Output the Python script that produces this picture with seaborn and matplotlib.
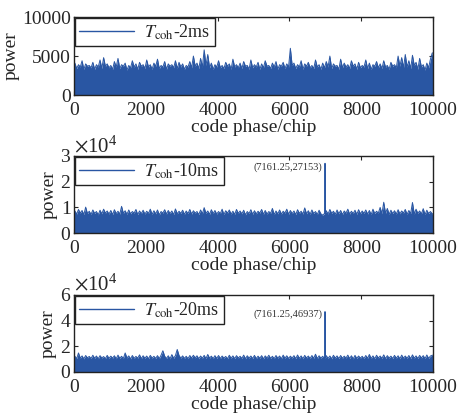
import numpy as np
import matplotlib
matplotlib.use("Agg")
import matplotlib.pyplot as plt
import seaborn as sns
import pandas as pd
from matplotlib.lines import Line2D
from matplotlib.ticker import ScalarFormatter

sns.set_style("ticks")
plt.rcParams['font.family'] = ['Liberation Serif', 'DejaVu Serif']
plt.rcParams['mathtext.fontset'] = 'stix'

# ---------------- data ----------------
labels = [r'$T_{\rm coh}$-2ms', r'$T_{\rm coh}$-10ms', r'$T_{\rm coh}$-20ms']
x_ticks = [0, 2000, 4000, 6000, 8000, 10000]
unit = 100          # values below are in hundreds of power units
bin_width = 50      # chips per listed value

power_2ms = [41,34,39,36,44,33,40,37,38,35,42,33,39,36,45,34,48,37,40,35,
             38,33,43,36,47,34,39,37,41,32,38,35,44,36,40,33,42,37,39,34,
             45,36,39,33,41,37,46,34,38,36,43,33,40,37,39,35,44,34,42,36,
             40,33,38,36,43,35,50,37,41,34,47,36,58,38,52,35,41,33,39,36,
             44,35,38,34,42,37,40,33,46,36,39,35,41,34,43,37,38,33,45,35,
             39,36,42,33,40,35,44,37,38,34,41,36,43,33,39,37,42,34,40,36,
             60,38,41,34,39,36,44,33,40,37,42,35,38,34,45,36,39,33,41,35,
             43,36,50,34,40,37,38,33,46,35,41,36,39,34,44,37,40,33,42,35,
             38,36,45,34,41,33,39,37,43,35,40,34,44,36,38,33,42,37,39,35,
             50,37,48,35,52,36,44,34,51,38,42,33,47,36,39,32,41,35,46,54]

power_10ms = [86,74,92,78,88,72,101,76,85,73,90,77,84,71,89,75,93,78,86,74,
              88,72,91,76,85,74,104,77,87,73,90,75,84,78,92,72,86,76,89,74,
              85,77,93,73,87,75,90,71,84,78,91,74,88,76,86,72,94,75,85,77,
              89,73,86,76,92,74,87,78,84,72,90,75,99,77,86,73,91,76,88,74,
              84,76,93,72,87,78,90,74,85,73,92,77,86,75,89,71,84,76,91,73,
              87,75,85,78,92,73,88,74,84,77,96,72,86,75,90,74,85,78,93,73,
              88,76,86,72,91,77,85,74,98,75,87,73,90,76,84,72,89,75,70,76,
              87,74,92,77,85,73,90,75,88,72,86,78,93,74,85,76,89,73,91,75,
              86,77,90,74,88,72,93,76,85,78,100,75,120,77,96,73,89,76,87,74,
              91,75,86,78,92,73,88,76,119,74,93,77,86,75,95,72,89,76,84,75]

power_20ms = [122,104,148,108,125,102,128,110,121,105,130,107,124,103,127,109,120,104,129,106,
              123,108,126,103,131,107,122,105,148,109,125,102,128,106,121,108,133,104,126,107,
              124,103,129,108,122,106,127,104,131,165,123,105,126,102,135,107,128,175,128,108,
              125,106,122,104,128,109,130,110,126,103,124,107,129,105,136,108,123,104,127,106,
              128,105,124,108,121,103,130,107,125,104,127,109,122,106,131,103,126,108,124,105,
              129,104,123,107,127,102,125,109,130,106,122,104,128,108,124,103,131,107,126,105,
              123,108,127,104,132,106,125,103,129,109,124,105,128,107,138,104,126,108,122,105,
              127,106,124,103,130,108,125,104,128,107,123,109,131,105,126,102,129,106,124,108,
              122,104,128,107,136,105,125,103,130,109,124,106,133,104,127,108,123,105,129,107,
              126,103,131,108,124,106,128,104,133,107,125,105,129,109,127,104,132,106,124,130]

peak_phase = [None, 6990, 6990]          # drawn position of the correlation peak
peak_power = [None, 27153, 46937]
peak_text = [None, '(7161.25,27153)', '(7161.25,46937)']
y_limits = [10000, 30000, 60000]
y_ticks = [[0, 5000, 10000], [0, 10000, 20000, 30000], [0, 20000, 40000, 60000]]
series = [power_2ms, power_10ms, power_20ms]

color = '#2956a3'

fig = plt.figure(figsize=(4.61, 4.17), dpi=100)
positions = [(0.1605, 0.772, 0.779, 0.187),
             (0.1605, 0.441, 0.779, 0.185),
             (0.1605, 0.108, 0.779, 0.185)]

for k in range(3):
    ax = fig.add_axes(positions[k])
    vals = [v * unit for v in series[k]]
    xs = list(np.arange(len(vals)) * bin_width + bin_width / 2)
    if peak_phase[k] is not None:
        pp = peak_phase[k]
        idx = int(np.searchsorted(xs, pp))
        base = vals[idx - 1]
        xs = xs[:idx] + [pp - 4, pp, pp + 4] + xs[idx:]
        vals = vals[:idx] + [base, peak_power[k], base] + vals[idx:]
    xs = [0] + xs + [10000]
    vals = [vals[0]] + vals + [vals[-1]]
    df = pd.DataFrame({'phase': xs, 'power': vals})
    ax.fill_between(df['phase'], 0, df['power'], color=color, lw=0)
    sns.lineplot(data=df, x='phase', y='power', ax=ax, color=color, lw=0.7,
                 estimator=None, sort=False)
    ax.set_xlim(0, 10000)
    ax.set_ylim(0, y_limits[k])
    ax.set_xticks(x_ticks)
    ax.set_yticks(y_ticks[k])
    ax.tick_params(direction='in', top=True, right=True, length=3, width=0.8,
                   labelsize=14)
    ax.tick_params(axis='x', pad=5)
    ax.tick_params(axis='y', pad=2)
    for s in ax.spines.values():
        s.set_linewidth(1.0)
        s.set_color('#222222')
    if k > 0:
        fmt = ScalarFormatter(useMathText=True)
        fmt.set_powerlimits((0, 0))
        ax.yaxis.set_major_formatter(fmt)
        ax.yaxis.get_offset_text().set_fontsize(15)
        ax.text(peak_phase[k] - 80, peak_power[k] * 0.95, peak_text[k],
                ha='right', va='center', fontsize=7.5, color='#333333')
    ax.set_xlabel('code phase/chip', fontsize=14, labelpad=0)
    ax.set_ylabel('power', fontsize=14, labelpad=2)
    h = Line2D([], [], color=color, lw=1.0)
    leg = ax.legend([h], [labels[k]], loc='upper left', borderaxespad=0.05,
                    fontsize=13, fancybox=False, framealpha=1, edgecolor='#222222',
                    handlelength=3.0, borderpad=0.25, handletextpad=0.6,
                    bbox_to_anchor=(0, 1))
    leg.get_frame().set_linewidth(1.0)

fig.savefig('out.png', dpi=100)
